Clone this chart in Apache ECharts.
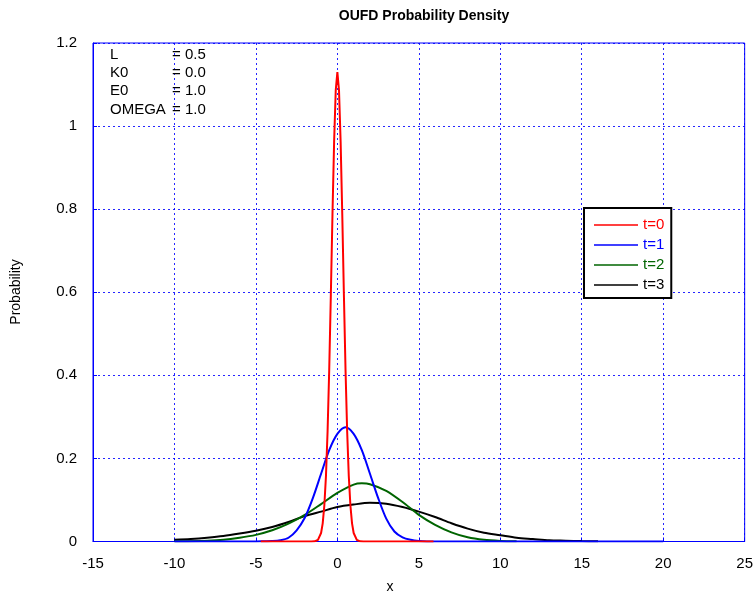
<!DOCTYPE html>
<html>
<head>
<meta charset="utf-8">
<script src="https://cdn.jsdelivr.net/npm/echarts@6/dist/echarts.min.js"></script>
<style>html,body{margin:0;padding:0;background:#fff}#c{width:756px;height:599px}</style>
</head>
<body>
<div id="c"></div>
<script>
// ---- data ----
var seriesNames = ['t=0', 't=1', 't=2', 't=3'];
var xTicks = [-15, -10, -5, 0, 5, 10, 15, 20, 25];
var yTicks = [0, 0.2, 0.4, 0.6, 0.8, 1, 1.2];

var x0 = [-4.7, -1.6, -1.4, -1.2, -1.0, -0.9, -0.8, -0.7, -0.6, -0.5, -0.4, -0.3, -0.2, -0.1, 0, 0.1, 0.2, 0.3, 0.4, 0.5, 0.6, 0.7, 0.8, 0.9, 1.0, 1.2, 1.4, 1.6, 5.9];
var y0 = [0, 0, 0.0004, 0.0035, 0.0204, 0.0438, 0.0867, 0.158, 0.266, 0.414, 0.595, 0.788, 0.962, 1.086, 1.13, 1.086, 0.962, 0.788, 0.595, 0.414, 0.266, 0.158, 0.0867, 0.0438, 0.0204, 0.0035, 0.0004, 0, 0];

var x1 = [-10, -5, -4.5, -4, -3.5, -3, -2.5, -2, -1.5, -1, -0.5, 0, 0.5, 1, 1.5, 2, 2.5, 3, 3.5, 4, 4.5, 5, 5.5, 20];
var y1 = [0, 0, 0.0005, 0.001, 0.003, 0.009, 0.027, 0.057, 0.105, 0.163, 0.22, 0.259, 0.275, 0.259, 0.22, 0.163, 0.105, 0.055, 0.024, 0.01, 0.004, 0.001, 0, 0];

var x2 = [-10, -8, -7, -6, -5, -4, -3, -2, -1, 0, 1, 1.5, 2, 3, 4, 5, 6, 7, 8, 9, 10, 11];
var y2 = [0.0005, 0.002, 0.004, 0.009, 0.016, 0.027, 0.043, 0.064, 0.09, 0.117, 0.137, 0.14, 0.138, 0.122, 0.095, 0.064, 0.04, 0.022, 0.01, 0.004, 0.0015, 0.0005];

var x3 = [-10, -9, -8, -7, -6, -5, -4, -3, -2, -1, 0, 1, 2, 3, 4, 5, 6, 7, 8, 9, 10, 11, 12, 13, 14, 15, 16];
var y3 = [0.004, 0.006, 0.009, 0.013, 0.019, 0.026, 0.035, 0.047, 0.061, 0.072, 0.083, 0.089, 0.093, 0.091, 0.083, 0.072, 0.059, 0.044, 0.031, 0.021, 0.015, 0.009, 0.006, 0.003, 0.002, 0.001, 0.0005];

var seriesColors = ['#ff0000', '#0000ff', '#006400', '#000000'];

var paramNames = ['L', 'K0', 'E0', 'OMEGA'];
var paramValues = ['= 0.5', '= 0.0', '= 1.0', '= 1.0'];

// ---- build ----
function pairs(xs, ys) { return xs.map(function (x, i) { return [x, ys[i]]; }); }
var allX = [x0, x1, x2, x3], allY = [y0, y1, y2, y3];
var FONT = 'Liberation Sans, Arial, sans-serif';
var GRIDBLUE = '#0000ff';

var series = [];
for (var k = 3; k >= 0; k--) {
  series.push({
    name: seriesNames[k],
    type: 'line',
    data: pairs(allX[k], allY[k]),
    showSymbol: false,
    symbol: 'none',
    smooth: k === 0 ? false : 0.3,
    lineStyle: { color: seriesColors[k], width: 2 },
    itemStyle: { color: seriesColors[k] },
    z: 10 + (3 - k)
  });
}

var graphics = [];
paramNames.forEach(function (n, i) {
  graphics.push({ type: 'text', left: 110, top: 47 + i * 18.3, z: 100,
    style: { text: n, font: '15px ' + FONT, fill: '#000' } });
  graphics.push({ type: 'text', left: 172, top: 47 + i * 18.3, z: 100,
    style: { text: paramValues[i], font: '15px ' + FONT, fill: '#000' } });
});
graphics.push({ type: 'text', x: 16, y: 292, rotation: Math.PI / 2,
  style: { text: 'Probability', font: '14px ' + FONT, fill: '#000', textAlign: 'center', textVerticalAlign: 'middle' } });
graphics.push({ type: 'text', x: 390, y: 587,
  style: { text: 'x', font: '14px ' + FONT, fill: '#000', textAlign: 'center', textVerticalAlign: 'middle' } });

var chart = echarts.init(document.getElementById('c'), null, { renderer: 'canvas' });
chart.setOption({
  animation: false,
  backgroundColor: '#fff',
  title: {
    text: 'OUFD Probability Density',
    left: 419, top: 4, textAlign: 'center',
    textStyle: { fontSize: 14, fontWeight: 'bold', fontFamily: FONT, color: '#000' }
  },
  grid: { left: 93, right: 10, top: 43, bottom: 57.5, show: true, borderColor: '#0000ff', borderWidth: 1, backgroundColor: 'transparent' },
  legend: {
    data: seriesNames.map(function (n, i) { return { name: n, textStyle: { color: seriesColors[i] } }; }),
    orient: 'vertical',
    left: 584, top: 208,
    itemWidth: 44, itemHeight: 1.6, itemGap: 2,
    icon: 'rect',
    padding: [8, 7, 4, 10],
    borderColor: '#000', borderWidth: 2, backgroundColor: '#fff',
    textStyle: { fontSize: 15, fontFamily: FONT, lineHeight: 18 },
    selectedMode: false
  },
  xAxis: {
    type: 'value', min: xTicks[0], max: xTicks[xTicks.length - 1], interval: 5,
    axisLine: { show: true, onZero: false, lineStyle: { color: '#0000ff', width: 1 } },
    axisTick: { show: true, inside: true, length: 4, lineStyle: { color: '#0000ff' } },
    axisLabel: { color: '#000', fontSize: 15, fontFamily: FONT, margin: 15 },
    splitLine: { show: true, lineStyle: { color: GRIDBLUE, type: [2, 3], width: 1, opacity: 0.85 } }
  },
  yAxis: {
    type: 'value', min: yTicks[0], max: yTicks[yTicks.length - 1], interval: 0.2,
    axisLine: { show: true, onZero: false, lineStyle: { color: '#0000ff', width: 1 } },
    axisTick: { show: true, inside: true, length: 4, lineStyle: { color: '#0000ff' } },
    axisLabel: { color: '#000', fontSize: 15, fontFamily: FONT, margin: 16 },
    splitLine: { show: true, lineStyle: { color: GRIDBLUE, type: [2, 3], width: 1, opacity: 0.85 } }
  },
  graphic: graphics,
  series: series
});
</script>
</body>
</html>
